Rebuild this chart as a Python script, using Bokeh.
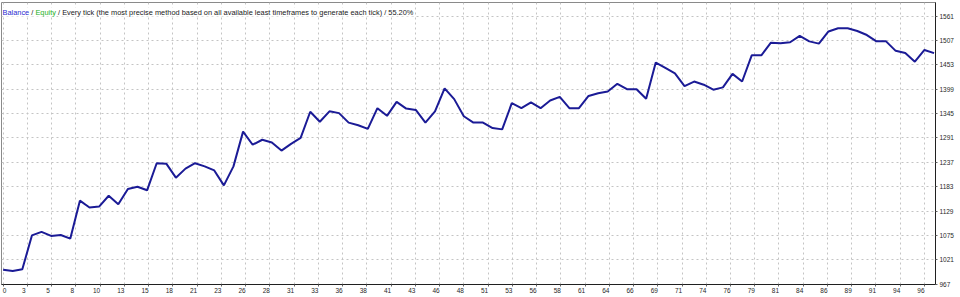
from bokeh.plotting import figure
from bokeh.models import Range1d, FixedTicker, LinearAxis, Label
from bokeh.embed import file_html
from bokeh.resources import INLINE

# ---- data -------------------------------------------------------------
trades = list(range(98))
balance = [999, 996, 1000, 1075, 1083, 1074, 1076, 1068, 1152, 1137,
           1139, 1163, 1144, 1178, 1183, 1175, 1235, 1234, 1203, 1223,
           1235, 1228, 1219, 1186, 1228, 1305, 1276, 1287, 1281, 1263,
           1278, 1291, 1349, 1327, 1350, 1346, 1325, 1319, 1311, 1357,
           1340, 1371, 1356, 1353, 1325, 1350, 1401, 1377, 1339, 1325,
           1325, 1313, 1310, 1368, 1357, 1370, 1357, 1374, 1382, 1357,
           1357, 1384, 1390, 1394, 1411, 1399, 1399, 1378, 1458, 1446,
           1434, 1406, 1416, 1409, 1398, 1403, 1433, 1416, 1474, 1474,
           1502, 1501, 1503, 1517, 1505, 1500, 1527, 1534, 1534, 1528,
           1519, 1505, 1505, 1484, 1479, 1460, 1486, 1479]
y_tick_values = [967, 1021, 1075, 1129, 1183, 1237, 1291, 1345, 1399,
                 1453, 1507, 1561]
x_tick_labels = ["0", "3", "5", "8", "10", "13", "15", "18", "21", "23",
                 "26", "28", "31", "33", "36", "38", "41", "43", "46", "48",
                 "51", "53", "56", "58", "61", "64", "66", "69", "71", "74",
                 "76", "79", "81", "84", "86", "89", "91", "94", "96"]
title_balance = "Balance"
title_sep = "/"
title_equity = "Equity"
title_rest = ("/ Every tick (the most precise method based on all available "
              "least timeframes to generate each tick) / 55.20%")

# ---- layout -----------------------------------------------------------
FW, FH = 934, 282
BL, BT = 1, 2
X_LO, X_HI = -0.17, 97.15
Y_LO, Y_HI = 966.3, 1591.1
GRID_STEP = 96 / 38
PPU = FW / (X_HI - X_LO)
LAB_SHIFT = 3.5 / PPU          # labels sit a little left of their gridline
FONT = "Liberation Sans"
TITLE_SIZE = 7.4

n_grid = len(x_tick_labels)
grid_pos = [k * GRID_STEP for k in range(n_grid)]

p = figure(frame_width=FW, frame_height=FH,
           x_range=Range1d(X_LO, X_HI), y_range=Range1d(Y_LO, Y_HI),
           y_axis_location="right", x_axis_location=None,
           output_backend="svg", toolbar_location=None,
           min_border_left=BL, min_border_top=BT,
           min_border_right=0, min_border_bottom=0)
p.background_fill_color = "white"
p.border_fill_color = "white"
p.outline_line_color = "#8a8a8a"
p.outline_line_width = 1

# grids
p.xgrid.ticker = FixedTicker(ticks=grid_pos)
p.ygrid.ticker = FixedTicker(ticks=y_tick_values)
for g in (p.xgrid, p.ygrid):
    g.grid_line_color = "#c4c4c4"
    g.grid_line_dash = "2 3"
    g.grid_line_width = 1

# bottom axis: labels on a slightly shifted range (grid-step units),
# tick marks (as minor ticks) exactly on the gridlines
s_units = LAB_SHIFT / GRID_STEP
p.extra_x_ranges = {"lab": Range1d((X_LO + LAB_SHIFT) / GRID_STEP,
                                   (X_HI + LAB_SHIFT) / GRID_STEP)}
first_tick = ((4 - BL) / PPU + X_LO + LAB_SHIFT) / GRID_STEP
lab_ticks = [first_tick] + list(range(1, n_grid))
axb = LinearAxis(x_range_name="lab",
                 ticker=FixedTicker(ticks=lab_ticks,
                                    minor_ticks=[k + s_units for k in range(n_grid)]))
axb.major_label_overrides = {t: lab for t, lab in zip(lab_ticks, x_tick_labels)}
axb.axis_line_color = "#202020"
axb.major_tick_line_color = None
axb.major_tick_out = 2
axb.major_tick_in = 0
axb.minor_tick_line_color = "#606060"
axb.minor_tick_out = 2
axb.minor_tick_in = 0
axb.major_label_standoff = 1
axb.major_label_text_font = FONT
axb.major_label_text_font_size = "6.5px"
axb.major_label_text_color = "#282828"
p.add_layout(axb, "below")

# right axis
ay = p.yaxis[0]
ay.ticker = FixedTicker(ticks=y_tick_values)
ay.axis_line_color = "#202020"
ay.major_tick_line_color = "#606060"
ay.major_tick_out = 2
ay.major_tick_in = 0
ay.minor_tick_line_color = None
ay.major_label_standoff = 2
ay.major_label_text_font = FONT
ay.major_label_text_font_size = "6.5px"
ay.major_label_text_color = "#282828"

# balance line
p.line(trades, balance, line_color="#1b1b96", line_width=2)

# title inside the frame
def xd(px):
    return X_LO + (px - BL) / FW * (X_HI - X_LO)

def yd(py):
    return Y_HI - (py - BT) / FH * (Y_HI - Y_LO)

# approximate advance widths (em) of Liberation Sans for the leading parts
ADV = {"B": .667, "a": .556, "l": .222, "n": .556, "c": .5, "e": .556,
       "E": .667, "q": .556, "u": .556, "i": .222, "t": .278, "y": .5,
       "/": .278, " ": .278}

def tw(s):
    return sum(ADV[c] for c in s) * TITLE_SIZE

x0 = 2.0
x_sep = x0 + tw(title_balance) + tw(" ")
x_eq = x_sep + tw("/ ")
x_rest = x_eq + tw(title_equity) + tw(" ")

base_y = yd(11.5)
for txt, px, col in [(title_balance, x0, "#2a2ad0"),
                     (title_sep, x_sep, "#202020"),
                     (title_equity, x_eq, "#22b022"),
                     (title_rest, x_rest, "#202020")]:
    p.add_layout(Label(x=xd(px), y=base_y, text=txt,
                       text_font=FONT, text_font_size=f"{TITLE_SIZE}px",
                       text_color=col, text_baseline="alphabetic",
                       text_align="left",
                       background_fill_color="white"))

open("out.html", "w").write(file_html(p, INLINE))
